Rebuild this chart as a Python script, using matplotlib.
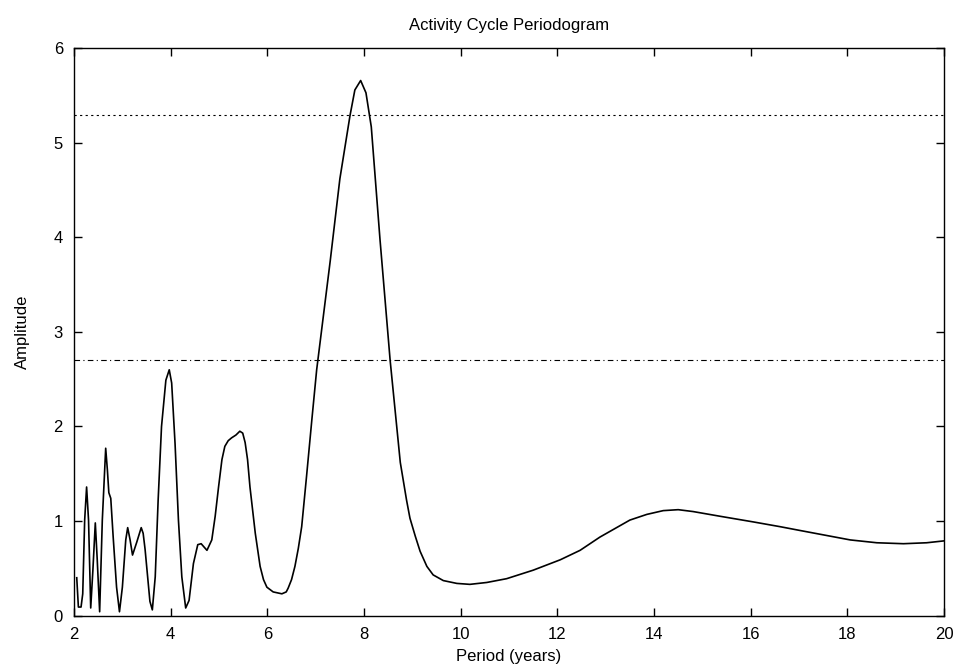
import numpy as np
import matplotlib.pyplot as plt

# Periodogram (period in years, amplitude)
period = [2.056, 2.09, 2.145, 2.18, 2.22, 2.26, 2.30, 2.345, 2.39, 2.44, 2.48,
          2.53, 2.585, 2.655, 2.69, 2.72, 2.76, 2.81, 2.88, 2.94, 3.00, 3.07,
          3.11, 3.16, 3.21, 3.30, 3.39, 3.43, 3.47, 3.57, 3.62, 3.68, 3.74,
          3.81, 3.90, 3.97, 4.02, 4.09, 4.16, 4.23, 4.31, 4.38, 4.47, 4.56,
          4.63, 4.75, 4.85, 4.92, 4.99, 5.06, 5.12, 5.19, 5.26, 5.35, 5.43,
          5.49, 5.54, 5.59, 5.64, 5.75, 5.85, 5.92, 5.99, 6.12, 6.30, 6.39,
          6.43, 6.50, 6.57, 6.64, 6.71, 6.81, 6.92, 7.02, 7.30, 7.50, 7.71,
          7.81, 7.93, 8.04, 8.15, 8.33, 8.54, 8.75, 8.88, 8.95, 9.06, 9.16,
          9.30, 9.43, 9.64, 9.92, 10.19, 10.54, 10.95, 11.50, 12.06, 12.47,
          12.88, 13.50, 13.85, 14.19, 14.50, 14.81, 15.37, 16.06, 16.61, 17.02,
          17.54, 18.06, 18.61, 19.16, 19.64, 20.0]
amplitude = [0.40, 0.09, 0.09, 0.23, 1.01, 1.36, 1.01, 0.08, 0.48, 0.98, 0.59,
             0.04, 1.01, 1.77, 1.54, 1.30, 1.24, 0.83, 0.30, 0.04, 0.30, 0.80,
             0.93, 0.80, 0.64, 0.78, 0.93, 0.87, 0.70, 0.15, 0.06, 0.41, 1.22,
             2.00, 2.49, 2.60, 2.46, 1.82, 1.01, 0.41, 0.08, 0.16, 0.55, 0.75,
             0.76, 0.69, 0.80, 1.05, 1.36, 1.65, 1.79, 1.85, 1.88, 1.91, 1.95,
             1.93, 1.83, 1.65, 1.36, 0.87, 0.52, 0.38, 0.30, 0.25, 0.23, 0.25,
             0.29, 0.38, 0.52, 0.71, 0.94, 1.47, 2.07, 2.60, 3.75, 4.62, 5.29,
             5.56, 5.66, 5.53, 5.17, 3.98, 2.70, 1.62, 1.22, 1.03, 0.84, 0.68,
             0.52, 0.43, 0.37, 0.34, 0.33, 0.35, 0.39, 0.48, 0.59, 0.69,
             0.83, 1.01, 1.07, 1.11, 1.12, 1.10, 1.05, 0.99, 0.94, 0.90,
             0.85, 0.80, 0.77, 0.76, 0.77, 0.79]

level_high = 5.3
level_low = 2.7

plt.rcParams['font.family'] = ['Liberation Sans', 'DejaVu Sans']

fig = plt.figure(figsize=(9.59, 6.72), dpi=100)
ax = fig.add_axes([0.0772, 0.084, 0.9072, 0.844])

ax.plot(period, amplitude, color='black', linewidth=1.2)
ax.axhline(level_high, color='black', linewidth=0.8, linestyle=(0, (2, 3)))
ax.axhline(level_low, color='black', linewidth=0.8, linestyle=(0, (5, 3, 1, 3)))

ax.set_xlim(2, 20)
ax.set_ylim(0, 6)
ax.set_xticks(np.arange(2, 21, 2))
ax.set_yticks(np.arange(0, 7, 1))
ax.tick_params(direction='in', length=6, width=1, top=True, right=True,
               labelsize=12, pad=8)
for s in ax.spines.values():
    s.set_linewidth(1)

ax.set_xlabel("Period (years)", fontsize=12, labelpad=5)
ax.set_ylabel("Amplitude", fontsize=12, labelpad=17)
ax.set_title("Activity Cycle Periodogram", fontsize=12, pad=13)

fig.savefig("out.png", dpi=100)
